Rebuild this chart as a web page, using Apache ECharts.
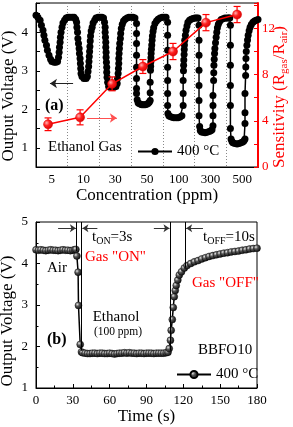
<!DOCTYPE html>
<html><head><meta charset="utf-8">
<script src="https://cdn.jsdelivr.net/npm/echarts@6/dist/echarts.min.js"></script>
<style>html,body{margin:0;padding:0;background:#fff}#c{width:293px;height:427px}</style>
</head><body><div id="c"></div>
<script>
// ---------- Panel (a) ----------
const concLabels = ['5','10','30','50','100','300','500'];
// response transient: x in segment units (0..7), y in volts
const cycle1 = [[0.00,4.44],[0.06,4.39],[0.13,4.31],[0.17,4.18],[0.22,4.05],[0.25,3.92],[0.28,3.79],[0.33,3.66],[0.36,3.53],[0.41,3.40],[0.46,3.30],[0.50,3.24],[0.57,3.22],[0.63,3.22],[0.68,3.24],[0.71,3.35],[0.73,3.48],[0.74,3.61],[0.76,3.74],[0.77,3.87],[0.79,4.00],[0.82,4.13],[0.85,4.24],[0.90,4.31],[0.95,4.37],[1.01,4.39],[1.07,4.39],[1.14,4.39],[1.20,4.39],[1.25,4.34]];
const cycle2 = [[1.28,4.26],[1.29,4.13],[1.31,4.00],[1.32,3.84],[1.34,3.71],[1.36,3.58],[1.37,3.45],[1.39,3.32],[1.40,3.19],[1.41,3.06],[1.42,2.93],[1.45,2.85],[1.51,2.80],[1.58,2.80],[1.62,2.85],[1.64,2.98],[1.66,3.11],[1.67,3.24],[1.68,3.37],[1.69,3.50],[1.70,3.63],[1.71,3.77],[1.72,3.90],[1.74,4.03],[1.77,4.13],[1.80,4.24],[1.85,4.31],[1.89,4.37],[1.96,4.39],[2.02,4.39],[2.08,4.39],[2.13,4.37]];
const cycle3 = [[2.16,4.26],[2.18,4.13],[2.18,4.00],[2.19,3.87],[2.20,3.74],[2.20,3.61],[2.21,3.48],[2.21,3.35],[2.22,3.22],[2.23,3.09],[2.23,2.96],[2.24,2.83],[2.26,2.70],[2.29,2.59],[2.33,2.57],[2.40,2.57],[2.46,2.57],[2.52,2.59],[2.56,2.67],[2.57,2.80],[2.59,2.93],[2.60,3.06],[2.61,3.19],[2.61,3.32],[2.62,3.45],[2.63,3.58],[2.64,3.71],[2.66,3.84],[2.67,3.97],[2.69,4.10],[2.72,4.21],[2.76,4.29],[2.81,4.34],[2.87,4.37],[2.93,4.39],[3.00,4.39],[3.06,4.39],[3.12,4.37]];
const cycle4 = [[3.17,4.23],[3.17,3.97],[3.17,3.71],[3.17,3.40],[3.17,3.09],[3.17,2.80],[3.17,2.54],[3.17,2.41],[3.19,2.25],[3.22,2.17],[3.25,2.15],[3.30,2.13],[3.34,2.12],[3.39,2.12],[3.44,2.12],[3.49,2.13],[3.53,2.15],[3.57,2.18],[3.60,2.23],[3.60,2.43],[3.60,2.70],[3.61,3.01],[3.615,3.12],[3.62,3.23],[3.625,3.34],[3.63,3.45],[3.64,3.56],[3.65,3.67],[3.66,3.79],[3.67,3.90],[3.69,4.02],[3.71,4.12],[3.75,4.23],[3.80,4.29],[3.85,4.34],[3.91,4.37],[3.98,4.39],[4.04,4.39],[4.10,4.39]];
const cycle5 = [[4.15,4.26],[4.15,3.92],[4.15,3.53],[4.15,3.09],[4.15,2.75],[4.15,2.41],[4.15,2.10],[4.16,1.89],[4.19,1.83],[4.23,1.81],[4.29,1.79],[4.35,1.78],[4.42,1.78],[4.48,1.78],[4.54,1.80],[4.60,1.83],[4.64,2.10],[4.64,2.41],[4.64,2.75],[4.65,3.00],[4.655,3.14],[4.66,3.28],[4.67,3.42],[4.675,3.55],[4.68,3.67],[4.69,3.79],[4.71,3.92],[4.73,4.05],[4.76,4.16],[4.79,4.26],[4.84,4.31],[4.89,4.34],[4.95,4.36],[5.01,4.37],[5.06,4.37],[5.11,4.37]];
const cycle6 = [[5.14,4.18],[5.14,3.79],[5.14,3.40],[5.14,3.01],[5.14,2.62],[5.14,2.23],[5.14,1.83],[5.16,1.55],[5.18,1.45],[5.22,1.41],[5.27,1.40],[5.33,1.39],[5.39,1.40],[5.46,1.42],[5.51,1.44],[5.55,1.47],[5.58,1.57],[5.58,1.83],[5.58,2.10],[5.58,2.36],[5.60,2.75],[5.605,2.95],[5.61,3.14],[5.62,3.30],[5.63,3.45],[5.64,3.58],[5.66,3.73],[5.68,3.87],[5.70,4.00],[5.72,4.12],[5.75,4.21],[5.79,4.28],[5.84,4.33],[5.90,4.35],[5.96,4.37],[6.03,4.37],[6.08,4.37],[6.11,4.37]];
const cycle7 = [[6.13,4.18],[6.13,3.66],[6.13,3.14],[6.13,2.62],[6.13,2.10],[6.13,1.50],[6.15,1.23],[6.18,1.16],[6.21,1.13],[6.27,1.11],[6.34,1.10],[6.40,1.11],[6.46,1.13],[6.52,1.15],[6.56,1.18],[6.59,1.23],[6.59,1.63],[6.59,1.91],[6.59,2.41],[6.61,2.88],[6.615,3.10],[6.62,3.32],[6.63,3.50],[6.65,3.66],[6.67,3.80],[6.69,3.92],[6.72,4.04],[6.75,4.13],[6.79,4.20],[6.84,4.26],[6.89,4.29],[6.94,4.31],[7.00,4.33]];
// sensitivity points
const sensX = [0.38,1.39,2.40,3.37,4.32,5.36,6.34];
const sensY = [3.7,4.3,7.2,8.7,10.0,12.5,13.2];
const sensErr = [0.55,0.65,0.6,0.6,0.7,0.7,0.7];
// direction arrows (a)
const arrowVolt = [[1.17,2.67],[0.44,2.67]];
const arrowSens = [[1.61,4.24],[2.55,4.24]];

// ---------- Panel (b) ----------
const airB = [[0,4.33],[2,4.32],[4,4.33],[6,4.32],[8,4.31],[10,4.32],[12,4.33],[14,4.32],[16,4.32],[18,4.31],[20,4.32],[22,4.33],[24,4.32],[26,4.32],[28,4.31],[30,4.32],[31.5,4.33],[32.5,4.34]];
const dropB = [[33.3,4.18],[34.3,3.79],[34.6,2.99],[36,2.05],[37,1.87]];
const ethB = [[38,1.85],[40,1.84],[42,1.83],[44,1.83],[46,1.84],[48,1.84],[50,1.83],[52,1.84],[54,1.84],[56,1.83],[58,1.83],[60,1.84],[62,1.83],[64,1.82],[66,1.83],[68,1.84],[70,1.84],[72,1.85],[74,1.84],[76,1.85],[78,1.84],[80,1.84],[82,1.83],[84,1.84],[86,1.84],[88,1.83],[90,1.84],[92,1.84],[94,1.84],[96,1.83],[98,1.84],[100,1.84],[102,1.84],[104,1.84],[106,1.85],[107.5,1.86]];
const riseB = [[108.5,1.95],[109.5,2.15],[110.1,2.39],[111,2.65],[111.8,2.94],[112.6,3.2],[113.4,3.35],[114.2,3.47],[115.5,3.6],[116.7,3.72],[118.5,3.8],[120.8,3.89],[123,3.95],[126,4.0],[129,4.04],[132,4.07],[135,4.11],[138,4.14],[141,4.17],[144,4.19],[147,4.21],[150,4.23],[153,4.25],[156,4.26],[159,4.28],[162,4.29],[165,4.30],[168,4.32],[171,4.33],[174,4.35],[177,4.36],[180,4.37]];
// response / recovery time markers (t, lower end voltage)
const markTimes = [[32.9,4.3],[37,1.9],[109.5,1.9],[121.6,3.9]];
const arrowsB = [[[18,4.85],[32.5,4.85]],[[50,4.85],[37.8,4.85]],[[96,4.85],[108.7,4.85]],[[136,4.85],[122.3,4.85]]];

const FF = '"Liberation Serif","Times New Roman",serif';
const RED = '#ff0000';
const sphere = {type:'radial',x:0.35,y:0.35,r:0.75,colorStops:[{offset:0,color:'#e6e6e6'},{offset:0.35,color:'#555'},{offset:1,color:'#000'}]};
const redSphere = {type:'radial',x:0.35,y:0.35,r:0.75,colorStops:[{offset:0,color:'#ffb0b0'},{offset:0.4,color:'#ff2020'},{offset:1,color:'#d00000'}]};

const chart = echarts.init(document.getElementById('c'), null, {renderer:'canvas'});
const tickStyle = {inside:true,length:4,lineStyle:{color:'#000',width:1}};
const lblStyle = {color:'#000',fontFamily:FF,fontSize:13};

const option = {
  animation:false,
  backgroundColor:'#fff',
  grid:[
    {left:36,top:3,width:222,height:164,show:true,borderColor:'#000',borderWidth:1,backgroundColor:'transparent'},
    {left:36,top:222,width:221,height:166,show:true,borderColor:'#000',borderWidth:1,backgroundColor:'transparent'}
  ],
  xAxis:[
    {type:'category',gridIndex:0,data:concLabels,boundaryGap:true,
     axisLine:{lineStyle:{color:'#000',width:1}},axisTick:{show:false},
     axisLabel:Object.assign({margin:6},lblStyle),
     splitLine:{show:true,lineStyle:{color:'#888',type:[1,2],width:1}},
     name:'Concentration (ppm)',nameLocation:'middle',nameGap:20,
     nameTextStyle:{fontFamily:FF,fontSize:17,color:'#000'}},
    {type:'value',gridIndex:0,min:0,max:7,show:false},
    {type:'value',gridIndex:1,min:0,max:180,interval:30,
     axisLine:{lineStyle:{color:'#000',width:1}},axisTick:tickStyle,
     minorTick:{show:true,splitNumber:2,length:2.5,lineStyle:{color:'#000'}},
     axisLabel:Object.assign({margin:6},lblStyle),splitLine:{show:false},
     name:'Time (s)',nameLocation:'middle',nameGap:19,
     nameTextStyle:{fontFamily:FF,fontSize:17,color:'#000'}}
  ],
  yAxis:[
    {type:'value',gridIndex:0,position:'left',min:0.5,max:4.76,interval:0.5,
     axisLine:{show:true,lineStyle:{color:'#000',width:1}},axisTick:tickStyle,
     axisLabel:Object.assign({margin:8,formatter:v=>Number.isInteger(v)?String(v):''},lblStyle),
     splitLine:{show:false}},
    {type:'value',gridIndex:0,position:'right',min:0,max:14.2,interval:2,
     axisLine:{show:true,lineStyle:{color:RED,width:2}},
     axisTick:{inside:true,length:4,lineStyle:{color:RED,width:1}},
     axisLabel:{margin:4,color:RED,fontFamily:FF,fontSize:13,formatter:v=>(v%4===0)?String(v):''},
     splitLine:{show:false}},
    {type:'value',gridIndex:1,min:1,max:5,interval:1,
     axisLine:{show:true,lineStyle:{color:'#000',width:1}},axisTick:tickStyle,
     minorTick:{show:true,splitNumber:2,length:2.5,lineStyle:{color:'#000'}},
     axisLabel:Object.assign({margin:8},lblStyle),splitLine:{show:false}}
  ],
  legend:[
    {data:['400 °C'],left:132,top:139,itemWidth:34,itemHeight:9,itemGap:2,
     textStyle:{fontFamily:FF,fontSize:15,color:'#000'},selectedMode:false},
    {data:['400 °C '],left:171,top:362,itemWidth:34,itemHeight:9,itemGap:2,
     textStyle:{fontFamily:FF,fontSize:15,color:'#000'},selectedMode:false}
  ],
  series:[
    {name:'400 °C',type:'line',xAxisIndex:1,yAxisIndex:0,
     data:[].concat(cycle1,cycle2,cycle3,cycle4,cycle5,cycle6,cycle7),
     symbol:'circle',symbolSize:7,showSymbol:true,
     itemStyle:{color:'#000'},lineStyle:{color:'#000',width:1.5},z:3,
     markLine:{silent:true,symbol:['none','arrow'],symbolSize:7,label:{show:false},
       lineStyle:{color:'#222',width:1,type:'solid'},
       data:[[{coord:arrowVolt[0]},{coord:arrowVolt[1]}]]}},
    {name:'errors',type:'custom',xAxisIndex:1,yAxisIndex:1,z:4,
     data:sensX.map((x,i)=>[x,sensY[i],sensErr[i]]),
     encode:{x:0,y:1},
     renderItem:(params,api)=>{
       const x=api.value(0),y=api.value(1),e=api.value(2);
       const t=api.coord([x,y+e]),b=api.coord([x,y-e]);const w=3.5;
       const st={stroke:RED,lineWidth:1.2};
       return {type:'group',children:[
         {type:'line',shape:{x1:t[0],y1:t[1],x2:b[0],y2:b[1]},style:st},
         {type:'line',shape:{x1:t[0]-w,y1:t[1],x2:t[0]+w,y2:t[1]},style:st},
         {type:'line',shape:{x1:b[0]-w,y1:b[1],x2:b[0]+w,y2:b[1]},style:st}]};
     }},
    {name:'Sensitivity',type:'line',xAxisIndex:1,yAxisIndex:1,z:5,
     data:sensX.map((x,i)=>[x,sensY[i]]),
     symbol:'circle',symbolSize:9,itemStyle:{color:redSphere,borderColor:'#e00000',borderWidth:0.5},
     lineStyle:{color:RED,width:1.5},
     markLine:{silent:true,symbol:['none','arrow'],symbolSize:7,label:{show:false},
       lineStyle:{color:'#ff5050',width:1,type:'solid'},
       data:[[{coord:arrowSens[0]},{coord:arrowSens[1]}]]}},
    {name:'400 °C ',type:'line',xAxisIndex:2,yAxisIndex:2,
     data:[].concat(airB,dropB,ethB,riseB),
     symbol:'circle',symbolSize:7,showSymbol:true,
     itemStyle:{color:sphere,borderColor:'#000',borderWidth:0.4},
     lineStyle:{color:'#000',width:1.5},z:3,
     markLine:{silent:true,symbol:['none','none'],label:{show:false},
       lineStyle:{color:'#000',width:1,type:'solid'},
       data:markTimes.map(m=>[{coord:[m[0],5]},{coord:[m[0],m[1]]}])}},
    {name:'arrowsB',type:'line',xAxisIndex:2,yAxisIndex:2,data:[],
     markLine:{silent:true,symbol:['none','arrow'],symbolSize:6,label:{show:false},
       lineStyle:{color:'#333',width:1,type:'solid'},
       data:arrowsB.map(a=>[{coord:a[0]},{coord:a[1]}])}}
  ],
  graphic:[
    {type:'text',x:9,y:96,rotation:Math.PI/2,z:10,style:{text:'Output Voltage (V)',font:'17px '+FF,fill:'#000',align:'center',verticalAlign:'middle'}},
    {type:'text',x:280,y:97,rotation:Math.PI/2,z:10,style:{text:'Sensitivity (R{s|gas}/R{s|air})',font:'17px '+FF,fill:RED,align:'center',verticalAlign:'middle',
      rich:{s:{fontSize:11,fontFamily:FF,fill:RED,padding:[9,0,0,0]}}}},
    {type:'text',x:45,y:106,z:10,style:{text:'(a)',font:'bold 16px '+FF,fill:'#000',verticalAlign:'middle'}},
    {type:'text',x:48,y:147,z:10,style:{text:'Ethanol Gas',font:'15px '+FF,fill:'#000',verticalAlign:'middle'}},
    {type:'text',x:8,y:321,rotation:Math.PI/2,z:10,style:{text:'Output Voltage (V)',font:'17px '+FF,fill:'#000',align:'center',verticalAlign:'middle'}},
    {type:'text',x:92,y:237,z:10,style:{text:'t{s|ON}=3s',font:'15px '+FF,fill:'#000',verticalAlign:'middle',rich:{s:{fontSize:10,fontFamily:FF,padding:[8,0,0,0]}}}},
    {type:'text',x:85,y:257,z:10,style:{text:'Gas "ON"',font:'15px '+FF,fill:RED,verticalAlign:'middle'}},
    {type:'text',x:47,y:268,z:10,style:{text:'Air',font:'15px '+FF,fill:'#000',verticalAlign:'middle'}},
    {type:'text',x:116,y:317,z:10,style:{text:'Ethanol',font:'15px '+FF,fill:'#000',align:'center',verticalAlign:'middle'}},
    {type:'text',x:118,y:332,z:10,style:{text:'(100 ppm)',font:'11.5px '+FF,fill:'#000',align:'center',verticalAlign:'middle'}},
    {type:'text',x:47,y:340,z:10,style:{text:'(b)',font:'bold 16px '+FF,fill:'#000',verticalAlign:'middle'}},
    {type:'text',x:203,y:237,z:10,style:{text:'t{s|OFF}=10s',font:'15px '+FF,fill:'#000',verticalAlign:'middle',rich:{s:{fontSize:10,fontFamily:FF,padding:[8,0,0,0]}}}},
    {type:'text',x:192,y:283,z:10,style:{text:'Gas "OFF"',font:'15px '+FF,fill:RED,verticalAlign:'middle'}},
    {type:'text',x:198,y:350,z:10,style:{text:'BBFO10',font:'15px '+FF,fill:'#000',verticalAlign:'middle'}}
  ]
};
chart.setOption(option);
</script>
</body></html>
